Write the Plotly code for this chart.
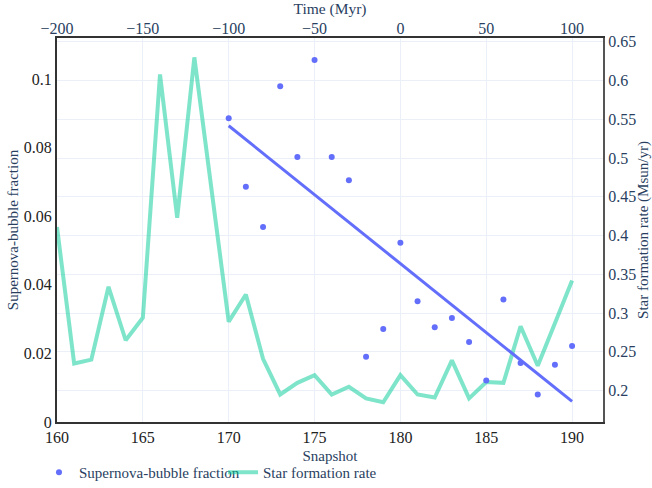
import plotly.graph_objects as go

snapshots = list(range(160, 191))
sfr = [0.411, 0.235, 0.240, 0.334, 0.265, 0.294, 0.608, 0.423, 0.630, 0.459,
       0.289, 0.324, 0.241, 0.195, 0.210, 0.220, 0.195, 0.205, 0.190, 0.185,
       0.220, 0.195, 0.191, 0.239, 0.190, 0.211, 0.210, 0.283, 0.232, 0.287,
       0.342]

bubble_snaps = list(range(170, 191))
bubble_frac = [0.0886, 0.0686, 0.0569, 0.0979, 0.0773, 0.1056, 0.0773, 0.0705,
               0.0190, 0.0271, 0.0523, 0.0352, 0.0276, 0.0303, 0.0233, 0.0121,
               0.0357, 0.0172, 0.0080, 0.0167, 0.0222]

trend_snaps = [170, 190]
trend_vals = [0.0864, 0.0060]

time_ticks = [-200, -150, -100, -50, 0, 50, 100]

FONT = "Times New Roman, Liberation Serif, serif"
TXT = "#2a3f5f"
DARK = "#222"
BLUE = "#636efa"
GREEN = "rgba(0,204,150,0.5)"

fig = go.Figure()

fig.add_trace(go.Scatter(
    x=snapshots, y=sfr, mode="lines", name="Star formation rate",
    line=dict(color=GREEN, width=4), xaxis="x", yaxis="y", legendrank=2,
))
fig.add_trace(go.Scatter(
    x=bubble_snaps, y=bubble_frac, mode="markers", name="Supernova-bubble fraction",
    marker=dict(color=BLUE, size=6), xaxis="x", yaxis="y2", legendrank=1,
))
fig.add_trace(go.Scatter(
    x=trend_snaps, y=trend_vals, mode="lines", showlegend=False,
    line=dict(color=BLUE, width=3), xaxis="x", yaxis="y2",
))
fig.add_trace(go.Scatter(
    x=time_ticks, y=[0.4] * len(time_ticks), mode="markers", showlegend=False,
    marker=dict(opacity=0), hoverinfo="skip", xaxis="x2", yaxis="y",
))

fig.update_layout(
    template="plotly_white",
    width=652, height=488,
    margin=dict(l=57, r=49, t=38, b=66, autoexpand=False),
    font=dict(family=FONT, size=15, color=TXT),
    xaxis=dict(
        title=dict(text="Snapshot", standoff=5, font=dict(family=FONT, size=15, color=TXT)),
        range=[160, 191.8], dtick=5, showgrid=True,
        showline=True, linecolor="#333", linewidth=2, mirror=True,
        tickfont=dict(family=FONT, size=16, color=DARK), zeroline=False,
    ),
    xaxis2=dict(
        title=dict(text="Time (Myr)", standoff=8, font=dict(family=FONT, size=15.5, color=TXT)),
        overlaying="x", side="top", range=[-200, 118], dtick=50,
        showgrid=False, zeroline=False, tickfont=dict(family=FONT, size=16, color=TXT),
    ),
    yaxis=dict(
        title=dict(text="Star formation rate (Msun/yr)", standoff=8,
                   font=dict(family=FONT, size=15, color=TXT)),
        side="right", range=[0.1595, 0.655], dtick=0.05,
        showgrid=True, zeroline=False,
        showline=True, linecolor="#555", linewidth=2,
        tickfont=dict(family=FONT, size=16, color=TXT),
    ),
    yaxis2=dict(
        title=dict(text="Supernova-bubble fraction", standoff=2,
                   font=dict(family=FONT, size=15, color=TXT)),
        side="left", overlaying="y", range=[0, 0.112], dtick=0.02,
        showgrid=False, zeroline=False,
        showline=True, linecolor="#333", linewidth=2,
        tickfont=dict(family=FONT, size=16, color=DARK),
    ),
    legend=dict(orientation="h", x=-0.033, xanchor="left", y=-0.0885, yanchor="top",
                font=dict(family=FONT, size=15, color=TXT), entrywidth=139),
)

fig.write_html("out.html", config={"displayModeBar": False},
               post_script="document.body.style.margin='0px';")
